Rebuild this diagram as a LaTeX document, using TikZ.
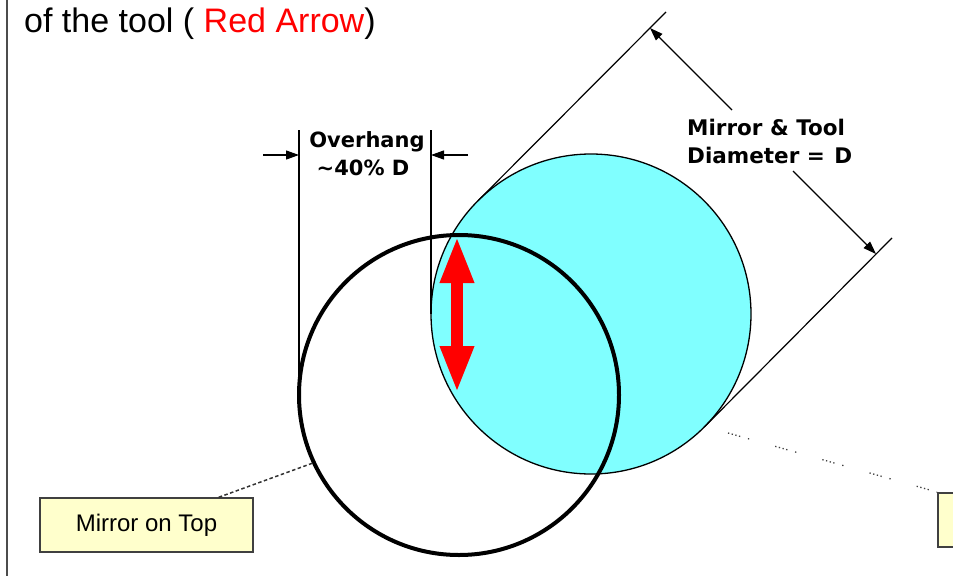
\documentclass[tikz,border=0pt]{standalone}
\usepackage{fontspec}
\setmainfont{Liberation Sans}
\newfontfamily\dejavu{DejaVu Sans}
\usetikzlibrary{arrows.meta,calc}
\definecolor{toolcyan}{HTML}{80FFFF}
\definecolor{noteyellow}{HTML}{FFFFCC}
\begin{document}
\begin{tikzpicture}[x=1pt,y=-1pt,
  dimline/.style={line width=1.2pt, draw=black},
  dimtip/.style={-{Triangle[length=13pt,width=9pt]}},
  boldlbl/.style={font=\dejavu\bfseries\fontsize{21}{25}\selectfont, inner sep=0pt},
  boldlblb/.style={font=\dejavu\bfseries\fontsize{21.5}{26}\selectfont, inner sep=0pt},
  notebox/.style={draw=black!75, line width=1.5pt, fill=noteyellow, minimum width=213pt,
    minimum height=54pt, inner sep=0pt, font=\fontsize{24}{28}\selectfont},
  disc/.style={circle, minimum size=320pt, inner sep=0pt, outer sep=0pt},
  leaderline/.style={line width=1.5pt, draw=black!80, dash pattern=on 3.5pt off 2.5pt},
  sparseleader/.style={line width=1.3pt, draw=black!75,
    dash pattern=on 1.3pt off 2.5pt on 1.3pt off 2.5pt on 1.3pt off 2.5pt on 1.3pt off 8pt on 1.3pt off 27pt},
  redarrow/.style={draw=red, line width=12pt,
    {Triangle[length=47pt,width=31pt]}-{Triangle[length=47pt,width=31pt]}}
]
\useasboundingbox (0,0) rectangle (953,576);

% left frame edge
\draw[line width=2pt, black!70] (7,0) -- (7,576);

% title
\node[anchor=base west, inner sep=0pt, font=\fontsize{34}{40}\selectfont] (title) at (24,32)
  {of the tool ( \textcolor{red}{Red Arrow})};

% tool and mirror
\node[disc, fill=toolcyan, draw=black, line width=1.3pt] (tool) at (591,314) {};
\node[disc, draw=black, line width=4pt] (mirror) at (459,395) {};

% red double arrow
\coordinate (rtop) at (457,236);
\coordinate (rbot) at (457,393);
\draw[redarrow] (rtop) -- (rbot);

% tangent lines of the tool
\coordinate (ulend) at (666,12);
\coordinate (llend) at (892,238);
\draw[dimline] (tool.135) -- (ulend);
\draw[dimline] (tool.-45) -- (llend);

% diameter dimension
\coordinate (dtop) at (650,28);
\coordinate (dbot) at (876,254);
\draw[dimline, dimtip] ($(dtop)!0.363!(dbot)$) -- (dtop);
\draw[dimline, dimtip] ($(dtop)!0.633!(dbot)$) -- (dbot);
\node[boldlblb, anchor=base west] (mt1) at (687,135) {Mirror \& Tool};
\node[boldlblb, anchor=base west] (mt2) at (687,163) {Diameter = \hspace{2pt}D};

% overhang dimension
\coordinate (ovtop) at (0,130);
\coordinate (ovarr) at (0,155);
\coordinate (ovl) at (263,155);
\coordinate (ovr) at (468,155);
\draw[dimline] (mirror.west) -- (mirror.west |- ovtop);
\draw[dimline] (tool.west) -- (tool.west |- ovtop);
\draw[dimline, dimtip] (ovl) -- (mirror.west |- ovarr);
\draw[dimline, dimtip] (ovr) -- (tool.west |- ovarr);
\node[boldlbl, anchor=base] (ov1) at (367,147) {Overhang};
\node[boldlbl, anchor=base] (ov2) at (363,175) {\textasciitilde40\% D};

% callouts
\node[notebox] (mbox) at (146.5,525) {Mirror on Top};
\draw[leaderline] ($(mbox.north east)+(-35,0)$) -- (mirror.205);

\node[notebox, anchor=north west] (rbox) at (937,492) {};
\coordinate (rlead) at (728,433);
\draw[sparseleader] (rlead) -- (rbox.north west);
\end{tikzpicture}
\end{document}
